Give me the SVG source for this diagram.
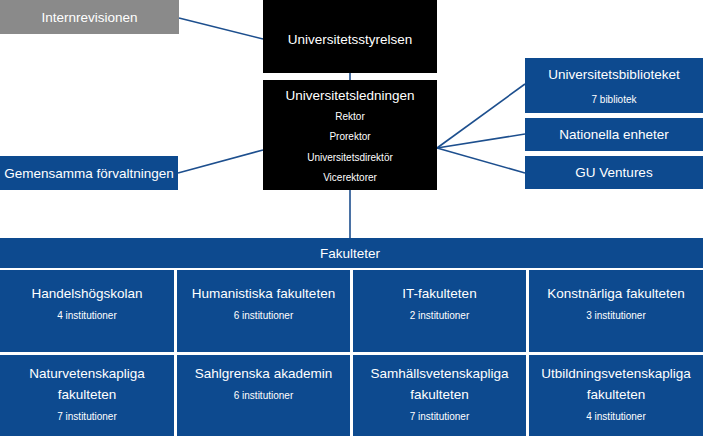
<svg xmlns="http://www.w3.org/2000/svg" width="703" height="436" viewBox="0 0 703 436">
<style>
.blue{fill:#0d4a8f}
.black{fill:#000}
.gray{fill:#8a8a8a}
text{font-family:"Liberation Sans",Arial,sans-serif;fill:#fff;text-anchor:middle}
.t{font-size:13.5px}
.s{font-size:10px}
.c{stroke:#1d4f8e;stroke-width:1.6;fill:none}
</style>
<rect width="703" height="436" fill="#fff"/>
<g id="connectors">
<line class="c" x1="179" y1="18" x2="263" y2="39"/>
<line class="c" x1="178" y1="173" x2="263" y2="150"/>
<line class="c" x1="350" y1="73" x2="350" y2="80"/>
<line class="c" x1="350" y1="190" x2="350" y2="238"/>
<line class="c" x1="437" y1="148" x2="525" y2="84"/>
<line class="c" x1="437" y1="148" x2="525" y2="134"/>
<line class="c" x1="437" y1="148" x2="525" y2="173"/>
</g>
<g id="internrevisionen"><rect class="gray" x="0" y="0" width="179" height="34"/><text class="t" x="89.5" y="22">Internrevisionen</text></g>
<g id="universitetsstyrelsen"><rect class="black" x="263" y="0" width="174" height="73"/><text class="t" x="350" y="44">Universitetsstyrelsen</text></g>
<g id="universitetsledningen"><rect class="black" x="263" y="80" width="174" height="110"/>
<text class="t" x="350" y="100">Universitetsledningen</text>
<text class="s" x="350" y="120">Rektor</text>
<text class="s" x="350" y="140">Prorektor</text>
<text class="s" x="350" y="161">Universitetsdirektör</text>
<text class="s" x="350" y="181">Vicerektorer</text></g>
<g id="gemensamma"><rect class="blue" x="0" y="156" width="178" height="34"/><text class="t" x="89" y="178">Gemensamma förvaltningen</text></g>
<g id="ub"><rect class="blue" x="525" y="58" width="178" height="55"/><text class="t" x="614" y="79">Universitetsbiblioteket</text><text class="s" x="614" y="103">7 bibliotek</text></g>
<g id="nationella"><rect class="blue" x="525" y="118" width="178" height="33"/><text class="t" x="614" y="139">Nationella enheter</text></g>
<g id="guventures"><rect class="blue" x="525" y="156" width="178" height="33"/><text class="t" x="614" y="177">GU Ventures</text></g>
<g id="fakulteter"><rect class="blue" x="0" y="238" width="703" height="30"/><text class="t" x="350" y="258">Fakulteter</text></g>
<g id="handels"><rect class="blue" x="0" y="270" width="174" height="82"/><text class="t" x="87" y="298">Handelshögskolan</text><text class="s" x="87" y="319">4 institutioner</text></g>
<g id="hum"><rect class="blue" x="177" y="270" width="173" height="82"/><text class="t" x="263.5" y="298">Humanistiska fakulteten</text><text class="s" x="263.5" y="319">6 institutioner</text></g>
<g id="it"><rect class="blue" x="353" y="270" width="173" height="82"/><text class="t" x="439.5" y="298">IT-fakulteten</text><text class="s" x="439.5" y="319">2 institutioner</text></g>
<g id="konst"><rect class="blue" x="529" y="270" width="174" height="82"/><text class="t" x="616" y="298">Konstnärliga fakulteten</text><text class="s" x="616" y="319">3 institutioner</text></g>
<g id="natur"><rect class="blue" x="0" y="355" width="174" height="81"/><text class="t" x="87" y="378">Naturvetenskapliga</text><text class="t" x="87" y="399">fakulteten</text><text class="s" x="87" y="420">7 institutioner</text></g>
<g id="sahlgrenska"><rect class="blue" x="177" y="355" width="173" height="81"/><text class="t" x="263.5" y="378">Sahlgrenska akademin</text><text class="s" x="263.5" y="399">6 institutioner</text></g>
<g id="samhall"><rect class="blue" x="353" y="355" width="173" height="81"/><text class="t" x="439.5" y="378">Samhällsvetenskapliga</text><text class="t" x="439.5" y="399">fakulteten</text><text class="s" x="439.5" y="420">7 institutioner</text></g>
<g id="utb"><rect class="blue" x="529" y="355" width="174" height="81"/><text class="t" x="616" y="378">Utbildningsvetenskapliga</text><text class="t" x="616" y="399">fakulteten</text><text class="s" x="616" y="420">4 institutioner</text></g>
</svg>
